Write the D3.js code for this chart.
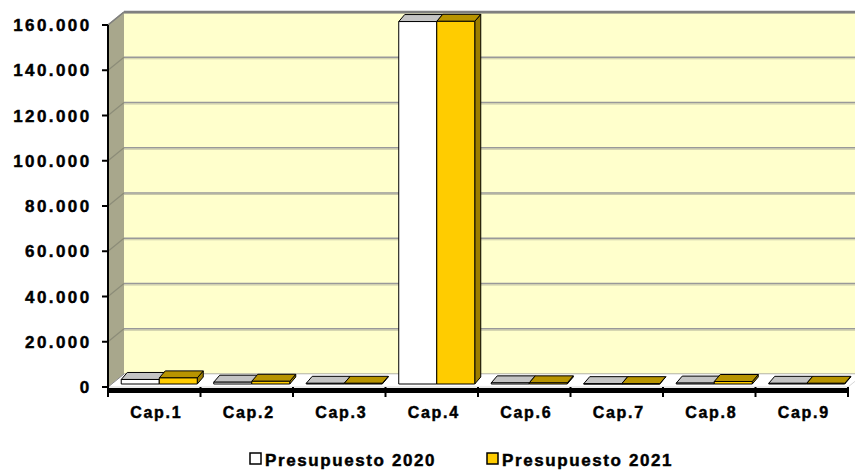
<!DOCTYPE html>
<html><head><meta charset="utf-8">
<script src="https://cdn.jsdelivr.net/npm/d3@7"></script>
<style>body{margin:0;background:#fff}svg{display:block}text{font-family:"Liberation Sans",Arial,sans-serif;font-weight:bold;fill:#000;stroke:#000;stroke-width:0.45px}</style>
</head><body>
<svg id="c" width="855" height="470"></svg>
<script>
const categories = ["Cap.1","Cap.2","Cap.3","Cap.4","Cap.6","Cap.7","Cap.8","Cap.9"];
const seriesNames = ["Presupuesto 2020","Presupuesto 2021"];
const values2020 = [2000, 800, 300, 160200, 500, 150, 400, 300];
const values2021 = [2700, 1200, 300, 160300, 500, 150, 1100, 300];
const yTicks = [0,20000,40000,60000,80000,100000,120000,140000,160000];
const tickLabels = ["0","20.000","40.000","60.000","80.000","100.000","120.000","140.000","160.000"];
const seriesColors = [
  {front:"#FFFFFF", top:"#C4C4C4", side:"#8A8A8A"},
  {front:"#FFCC00", top:"#B89400", side:"#9C7D00"}
];

const svg = d3.select("#c");
const X0 = 108, X1 = 848, YB = 387, YT = 25;
const DX = 16, DY = -13;          // wall depth
const FX = 5, FY = -3;            // bar front offset within depth
const BX = 6, BY = -7;            // bar depth

const x = d3.scaleBand().domain(categories).range([X0, X1]);
const xs = d3.scaleBand().domain(seriesNames).range([0, x.bandwidth()]).paddingOuter(0.217);
const y = d3.scaleLinear().domain([0,160000]).range([YB, YT]);

// left side wall
svg.append("polygon")
  .attr("points", [[X0,YB],[X0,y(160000)],[X0+DX,y(160000)+DY],[X0+DX,YB+DY]].join(" "))
  .attr("fill","#A8A78C");
// back wall
svg.append("rect").attr("x",X0+DX).attr("y",y(160000)+DY).attr("width",860-X0-DX).attr("height",YB-y(160000))
  .attr("fill","#FFFFCC");
// gridlines on back wall
yTicks.forEach(t=>{
  if(t===0) return;
  svg.append("line").attr("x1",X0+DX).attr("x2",860).attr("y1",y(t)+DY+1.5).attr("y2",y(t)+DY+1.5)
    .attr("stroke","#C8C8A8").attr("stroke-width",1.2);
  svg.append("line").attr("x1",X0+DX).attr("x2",860).attr("y1",y(t)+DY).attr("y2",y(t)+DY)
    .attr("stroke", t===160000 ? "#808080" : "#999999").attr("stroke-width", t===160000 ? 2.5 : 1.3);
  svg.append("line").attr("x1",X0).attr("x2",X0+DX).attr("y1",y(t)).attr("y2",y(t)+DY)
    .attr("stroke","#8C8C78").attr("stroke-width",1.2);
});
svg.append("line").attr("x1",X0).attr("x2",X0+DX).attr("y1",y(160000)).attr("y2",y(160000)+DY)
  .attr("stroke","#808080").attr("stroke-width",1.5);
// back wall bottom edge
svg.append("line").attr("x1",X0+DX).attr("x2",860).attr("y1",YB+DY).attr("y2",YB+DY)
  .attr("stroke","#B0B090").attr("stroke-width",1.5);
// floor
svg.append("polygon")
  .attr("points", [[X0,YB],[X1,YB],[X1+DX,YB+DY],[X0+DX,YB+DY]].join(" "))
  .attr("fill","#FFFFFF").attr("stroke","#CCCCCC").attr("stroke-width",0.8);
svg.append("line").attr("x1",X0).attr("x2",X0+DX).attr("y1",YB).attr("y2",YB+DY)
  .attr("stroke","#888").attr("stroke-width",1);

// bars
const vals = [values2020, values2021];
categories.forEach((c,i)=>{
  seriesNames.forEach((s,j)=>{
    const v = vals[j][i];
    const col = seriesColors[j];
    const bx = x(c) + xs(s) + FX;
    const w = xs.bandwidth();
    const yb = YB + FY;
    const yt = y(v) + FY;
    const g = svg.append("g").attr("stroke","#000").attr("stroke-width",1).attr("stroke-linejoin","round");
    g.append("polygon").attr("points",[[bx+w,yt],[bx+w+BX,yt+BY],[bx+w+BX,yb+BY],[bx+w,yb]].join(" "))
      .attr("fill",col.side);
    g.append("polygon").attr("points",[[bx,yt],[bx+w,yt],[bx+w+BX,yt+BY],[bx+BX,yt+BY]].join(" "))
      .attr("fill",col.top);
    g.append("rect").attr("x",bx).attr("y",yt).attr("width",w).attr("height",Math.max(yb-yt,0.5))
      .attr("fill",col.front);
  });
});

// x axis (floor front edge)
svg.append("rect").attr("x",X0).attr("y",YB+1).attr("width",X1-X0).attr("height",5).attr("fill","#000");
const xb = categories.map(c=>x(c)).concat([X1]);
xb.forEach(p=>{
  svg.append("line").attr("x1",p).attr("x2",p).attr("y1",YB).attr("y2",YB+10)
    .attr("stroke","#000").attr("stroke-width",2);
});
svg.selectAll(".xl").data(categories).enter().append("text")
  .attr("x",d=>x(d)+x.bandwidth()/2+2).attr("y",418).attr("text-anchor","middle")
  .attr("font-size",16).attr("letter-spacing",1.7).text(d=>d);

// y axis
svg.append("line").attr("x1",X0).attr("x2",X0).attr("y1",YT).attr("y2",YB+5).attr("stroke","#000").attr("stroke-width",2);
const yAxis = svg.append("g");
yTicks.forEach((t,k)=>{
  yAxis.append("line").attr("x1",X0-6).attr("x2",X0).attr("y1",y(t)).attr("y2",y(t)).attr("stroke","#000").attr("stroke-width",2);
  yAxis.append("text").attr("x",91.5).attr("y",y(t)+6).attr("text-anchor","end")
    .attr("font-size",17).attr("letter-spacing",2.4).text(tickLabels[k]);
});

// legend
const legX = [250, 487];
seriesNames.forEach((s,j)=>{
  svg.append("rect").attr("x",legX[j]).attr("y",453).attr("width",11).attr("height",11)
    .attr("fill",seriesColors[j].front).attr("stroke","#000").attr("stroke-width",1.5);
  svg.append("text").attr("x",legX[j]+15).attr("y",465.5).attr("font-size",17).attr("letter-spacing",1.6).text(s);
});
</script>
</body></html>
